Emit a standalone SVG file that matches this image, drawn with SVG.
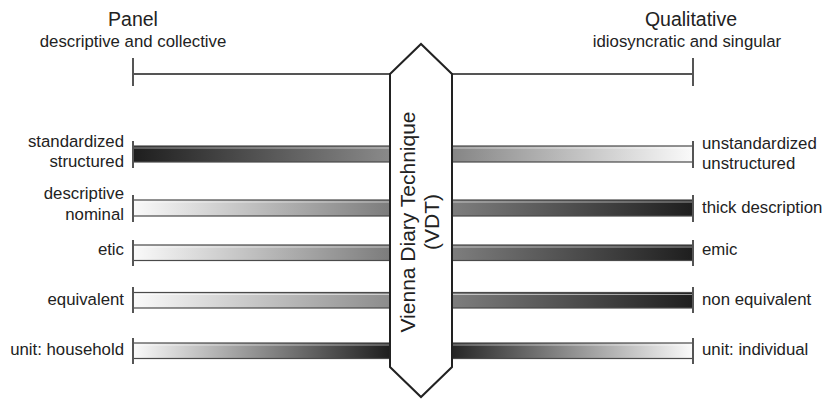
<svg xmlns="http://www.w3.org/2000/svg" width="826" height="400" viewBox="0 0 826 400">
  <style>
    text { font-family: "Liberation Sans", Arial, Helvetica, sans-serif; fill: #222; }
    .head { font-size: 19.5px; text-anchor: middle; }
    .sub { font-size: 16.8px; text-anchor: middle; }
    .lbl-l { font-size: 16.8px; text-anchor: end; }
    .lbl-r { font-size: 16.8px; text-anchor: start; }
    .vt { font-size: 21px; text-anchor: middle; }
    .axis { stroke: #555; stroke-width: 2; fill: none; }
    .tick { stroke: #555; stroke-width: 2; fill: none; }
    .bar { stroke: #4a4a4a; stroke-width: 1.2; }
    .shine { stroke: #fff; stroke-opacity: 0.55; stroke-width: 1; }
    .hex { fill: #fff; stroke: #222; stroke-width: 2; stroke-linejoin: miter; }
  </style>
  <defs>
    <!-- left-side gradients: run from the outer tick (x=133) to the centre column (x=390) -->
    <linearGradient id="gDarkToMid" x1="0" y1="0" x2="1" y2="0">
      <stop offset="0" stop-color="#1e1e1e"/>
      <stop offset="1" stop-color="#8a8a8a"/>
    </linearGradient>
    <linearGradient id="gWhiteToMid" x1="0" y1="0" x2="1" y2="0">
      <stop offset="0" stop-color="#fafafa"/>
      <stop offset="1" stop-color="#7c7c7c"/>
    </linearGradient>
    <linearGradient id="gWhiteToMid2" x1="0" y1="0" x2="1" y2="0">
      <stop offset="0" stop-color="#fafafa"/>
      <stop offset="1" stop-color="#8c8c8c"/>
    </linearGradient>
    <linearGradient id="gWhiteToDark" x1="0" y1="0" x2="1" y2="0">
      <stop offset="0" stop-color="#fafafa"/>
      <stop offset="1" stop-color="#1e1e1e"/>
    </linearGradient>
    <!-- right-side gradients: run from the centre column (x=452) to the outer tick (x=693) -->
    <linearGradient id="gMidToWhite" x1="0" y1="0" x2="1" y2="0">
      <stop offset="0" stop-color="#858585"/>
      <stop offset="1" stop-color="#fafafa"/>
    </linearGradient>
    <linearGradient id="gMidToDark" x1="0" y1="0" x2="1" y2="0">
      <stop offset="0" stop-color="#7e7e7e"/>
      <stop offset="1" stop-color="#1e1e1e"/>
    </linearGradient>
    <linearGradient id="gDarkToWhite" x1="0" y1="0" x2="1" y2="0">
      <stop offset="0" stop-color="#262626"/>
      <stop offset="1" stop-color="#fafafa"/>
    </linearGradient>
  </defs>

  <!-- headings -->
  <g id="heading-panel">
    <text class="head" x="133" y="26">Panel</text>
    <text class="sub" x="133" y="47">descriptive and collective</text>
  </g>
  <g id="heading-qualitative">
    <text class="head" x="691" y="26">Qualitative</text>
    <text class="sub" x="687" y="47">idiosyncratic and singular</text>
  </g>

  <!-- connectors: top axis and the gradient bars -->
  <g id="connectors">
    <line class="axis" x1="133" y1="74" x2="391" y2="74"/>
    <line class="axis" x1="451" y1="74" x2="693" y2="74"/>
    <line class="tick" x1="133" y1="58" x2="133" y2="86"/>
    <line class="tick" x1="693" y1="58" x2="693" y2="86"/>

    <!-- row 1 -->
    <rect class="bar" x="133" y="146" width="257" height="16" fill="url(#gDarkToMid)"/>
    <rect class="bar" x="452" y="146" width="241" height="16" fill="url(#gMidToWhite)"/>
    <!-- row 2 -->
    <rect class="bar" x="133" y="200" width="257" height="16" fill="url(#gWhiteToMid)"/>
    <rect class="bar" x="452" y="200" width="241" height="16" fill="url(#gMidToDark)"/>
    <!-- row 3 -->
    <rect class="bar" x="133" y="245" width="257" height="15.5" fill="url(#gWhiteToMid)"/>
    <rect class="bar" x="452" y="245" width="241" height="15.5" fill="url(#gMidToDark)"/>
    <!-- row 4 -->
    <rect class="bar" x="133" y="292.5" width="257" height="15.5" fill="url(#gWhiteToMid2)"/>
    <rect class="bar" x="452" y="292.5" width="241" height="15.5" fill="url(#gMidToDark)"/>
    <!-- row 5 -->
    <rect class="bar" x="133" y="343" width="257" height="15.5" fill="url(#gWhiteToDark)"/>
    <rect class="bar" x="452" y="343" width="241" height="15.5" fill="url(#gDarkToWhite)"/>

    <!-- highlight lines just inside the bar edges -->
    <g class="shine">
      <line x1="134" y1="148" x2="390" y2="148"/><line x1="452" y1="148" x2="692" y2="148"/>
      <line x1="134" y1="202" x2="390" y2="202"/><line x1="452" y1="202" x2="692" y2="202"/>
      <line x1="134" y1="247" x2="390" y2="247"/><line x1="452" y1="247" x2="692" y2="247"/>
      <line x1="134" y1="294.5" x2="390" y2="294.5"/><line x1="452" y1="294.5" x2="692" y2="294.5"/>
      <line x1="134" y1="345" x2="390" y2="345"/><line x1="452" y1="345" x2="692" y2="345"/>
    </g>

    <!-- end ticks -->
    <g class="tick">
      <line x1="133" y1="141" x2="133" y2="168"/><line x1="693" y1="141" x2="693" y2="168"/>
      <line x1="133" y1="195" x2="133" y2="222"/><line x1="693" y1="195" x2="693" y2="222"/>
      <line x1="133" y1="240" x2="133" y2="266"/><line x1="693" y1="240" x2="693" y2="266"/>
      <line x1="133" y1="287" x2="133" y2="313"/><line x1="693" y1="287" x2="693" y2="313"/>
      <line x1="133" y1="338" x2="133" y2="364"/><line x1="693" y1="338" x2="693" y2="364"/>
    </g>
  </g>

  <!-- central column -->
  <g id="vdt">
    <polygon class="hex" points="390,74 421,44 452,74 452,367 421,397 390,367"/>
    <text class="vt" transform="translate(415,222) rotate(-90)">Vienna Diary Technique</text>
    <text class="vt" transform="translate(439,222) rotate(-90)">(VDT)</text>
  </g>

  <!-- left labels -->
  <g id="row1-left"><text class="lbl-l" x="124" y="147">standardized</text><text class="lbl-l" x="124" y="167">structured</text></g>
  <g id="row2-left"><text class="lbl-l" x="124" y="199">descriptive</text><text class="lbl-l" x="124" y="220">nominal</text></g>
  <g id="row3-left"><text class="lbl-l" x="124" y="255">etic</text></g>
  <g id="row4-left"><text class="lbl-l" x="124" y="305">equivalent</text></g>
  <g id="row5-left"><text class="lbl-l" x="124" y="355">unit: household</text></g>

  <!-- right labels -->
  <g id="row1-right"><text class="lbl-r" x="702" y="149">unstandardized</text><text class="lbl-r" x="702" y="168.5">unstructured</text></g>
  <g id="row2-right"><text class="lbl-r" x="702" y="213">thick description</text></g>
  <g id="row3-right"><text class="lbl-r" x="702" y="255">emic</text></g>
  <g id="row4-right"><text class="lbl-r" x="702" y="305">non equivalent</text></g>
  <g id="row5-right"><text class="lbl-r" x="702" y="355">unit: individual</text></g>
</svg>
